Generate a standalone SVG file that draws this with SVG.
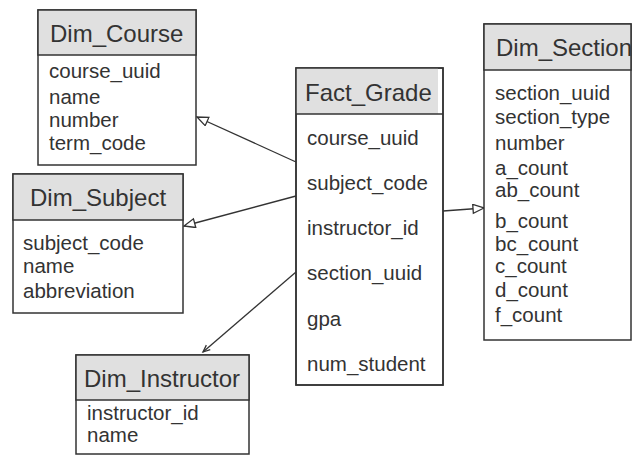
<svg xmlns="http://www.w3.org/2000/svg" width="635" height="455" viewBox="0 0 635 455">
<style>
.box{fill:#ffffff;stroke:#333333;stroke-width:1.5}
.hdr{fill:#e0e0e0;stroke:#333333;stroke-width:1.5}
.ht{font-family:"Liberation Sans",Arial,sans-serif;font-size:24px;fill:#333333}
.bt{font-family:"Liberation Sans",Arial,sans-serif;font-size:20.5px;fill:#333333}
.conn{stroke:#333333;stroke-width:1.3;fill:none}
</style>
<defs>
<marker id="tri" markerUnits="userSpaceOnUse" markerWidth="14" markerHeight="12" refX="12" refY="5" orient="auto">
<path d="M1,0.5 L12,5 L1,9.5 z" fill="#ffffff" stroke="#333333" stroke-width="1.3"/>
</marker>
<marker id="tri2" markerUnits="userSpaceOnUse" markerWidth="10" markerHeight="10" refX="8" refY="4" orient="auto">
<path d="M1,1 L8,4 L1,7" fill="none" stroke="#333333" stroke-width="1.3"/>
</marker>
</defs>
<rect width="635" height="455" fill="#ffffff"/>
<g id="connectors">
<line class="conn" x1="296" y1="162" x2="197" y2="117" marker-end="url(#tri)"/>
<line class="conn" x1="296" y1="196" x2="184" y2="226" marker-end="url(#tri)"/>
<line class="conn" x1="296" y1="272" x2="203" y2="352" marker-end="url(#tri2)"/>
<line class="conn" x1="443" y1="211" x2="484" y2="208" marker-end="url(#tri)"/>
</g>
<g id="Dim_Course">
<rect class="box" x="38" y="10" width="158" height="155"/>
<rect class="hdr" x="38" y="10" width="158" height="45"/>
<text class="ht" x="50" y="42">Dim_Course</text>
<text class="bt" x="49" y="78">course_uuid</text>
<text class="bt" x="49" y="104">name</text>
<text class="bt" x="49" y="127">number</text>
<text class="bt" x="49" y="150">term_code</text>
</g>
<g id="Dim_Subject">
<rect class="box" x="13" y="174" width="170" height="139"/>
<rect class="hdr" x="13" y="174" width="170" height="46"/>
<text class="ht" x="30" y="206">Dim_Subject</text>
<text class="bt" x="23" y="250">subject_code</text>
<text class="bt" x="23" y="273">name</text>
<text class="bt" x="23" y="298">abbreviation</text>
</g>
<g id="Dim_Instructor">
<rect class="box" x="76" y="355" width="173" height="99"/>
<rect class="hdr" x="76" y="355" width="173" height="45"/>
<text class="ht" x="84" y="387">Dim_Instructor</text>
<text class="bt" x="87" y="420">instructor_id</text>
<text class="bt" x="87" y="442">name</text>
</g>
<g id="Fact_Grade">
<rect class="box" x="296" y="68" width="147" height="317"/>
<rect x="296" y="68" width="142" height="46" fill="#e0e0e0"/>
<line x1="296" y1="114" x2="443" y2="114" stroke="#333333" stroke-width="1.5"/>
<rect x="296" y="68" width="147" height="317" fill="none" stroke="#333333" stroke-width="1.5"/>
<text class="ht" x="305" y="101">Fact_Grade</text>
<text class="bt" x="307" y="145">course_uuid</text>
<text class="bt" x="307" y="190">subject_code</text>
<text class="bt" x="307" y="235">instructor_id</text>
<text class="bt" x="307" y="280">section_uuid</text>
<text class="bt" x="307" y="326">gpa</text>
<text class="bt" x="307" y="371">num_student</text>
</g>
<g id="Dim_Section">
<rect class="box" x="484" y="24" width="147" height="316"/>
<rect class="hdr" x="484" y="24" width="147" height="46"/>
<text class="ht" x="496" y="56">Dim_Section</text>
<text class="bt" x="495" y="100">section_uuid</text>
<text class="bt" x="495" y="124">section_type</text>
<text class="bt" x="495" y="150">number</text>
<text class="bt" x="495" y="175">a_count</text>
<text class="bt" x="495" y="197">ab_count</text>
<text class="bt" x="495" y="228">b_count</text>
<text class="bt" x="495" y="251">bc_count</text>
<text class="bt" x="495" y="273">c_count</text>
<text class="bt" x="495" y="297">d_count</text>
<text class="bt" x="495" y="322">f_count</text>
</g>
</svg>
